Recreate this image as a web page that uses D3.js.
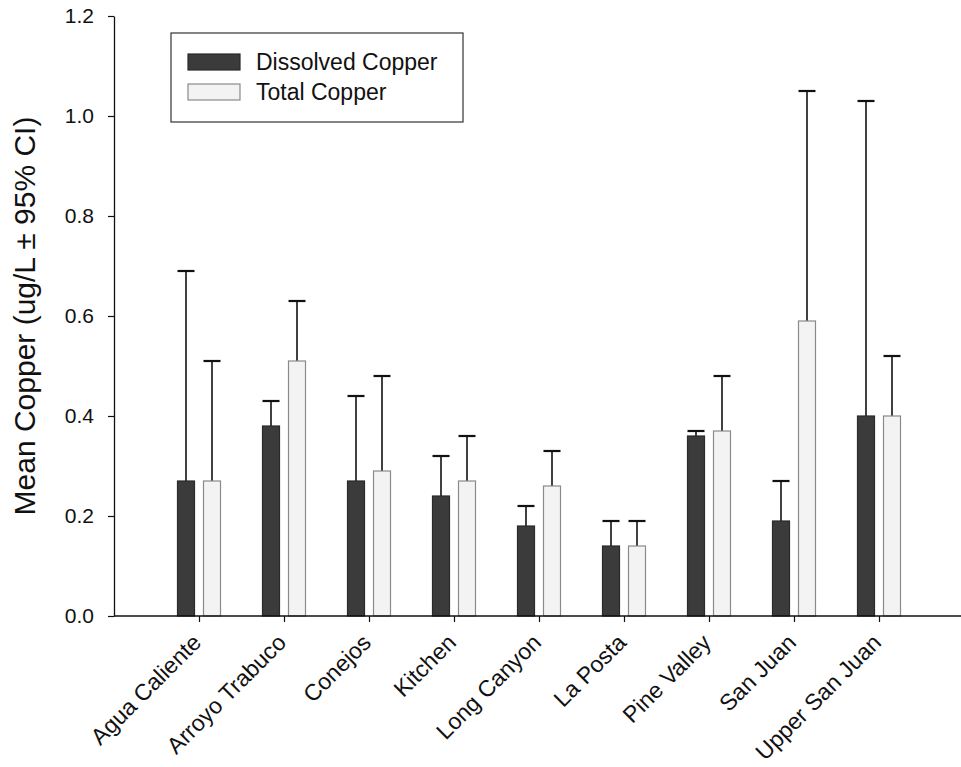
<!DOCTYPE html>
<html>
<head>
<meta charset="utf-8">
<script src="https://cdnjs.cloudflare.com/ajax/libs/d3/7.8.5/d3.min.js"></script>
<style>
  body { margin: 0; background: #fff; }
  text { font-family: "Liberation Sans", Arial, sans-serif; fill: #111; }
</style>
</head>
<body>
<div id="chart"></div>
<script>
'use strict';

var sites = ["Agua Caliente", "Arroyo Trabuco", "Conejos", "Kitchen", "Long Canyon",
             "La Posta", "Pine Valley", "San Juan", "Upper San Juan"];
var dissolved = [0.27, 0.38, 0.27, 0.24, 0.18, 0.14, 0.36, 0.19, 0.40];
var dissolvedUpper = [0.69, 0.43, 0.44, 0.32, 0.22, 0.19, 0.37, 0.27, 1.03];
var total = [0.27, 0.51, 0.29, 0.27, 0.26, 0.14, 0.37, 0.59, 0.40];
var totalUpper = [0.51, 0.63, 0.48, 0.36, 0.33, 0.19, 0.48, 1.05, 0.52];
var yTicks = [0, 0.2, 0.4, 0.6, 0.8, 1.0, 1.2];
var seriesNames = ["Dissolved Copper", "Total Copper"];

var W = 961, H = 767;
var margin = {top: 16, left: 114, bottom: 151, right: -3};
var fontFam = "'Liberation Sans', Arial, sans-serif";

var svg = d3.select("#chart").append("svg")
            .attr("width", W)
            .attr("height", H);

var x = d3.scalePoint()
          .domain(sites)
          .range([margin.left, W - margin.right])
          .padding(1);
var y = d3.scaleLinear()
          .domain([0, 1.2])
          .range([H - margin.bottom, margin.top]);

var barW = 17, off = 13;

var rows = sites.map(function(s, i){
  return [
    {site: s, key: "d", v: dissolved[i], hi: dissolvedUpper[i], dx: -off},
    {site: s, key: "t", v: total[i], hi: totalUpper[i], dx: off}
  ];
}).flat();

// error bars (upper only), drawn behind bars
var err = svg.append("g").attr("class", "err");
err.selectAll("line.stem")
   .data(rows).enter().append("line")
   .attr("class", "stem")
   .attr("x1", function(d){ return x(d.site) + d.dx; })
   .attr("x2", function(d){ return x(d.site) + d.dx; })
   .attr("y1", function(d){ return y(d.v); })
   .attr("y2", function(d){ return y(d.hi); })
   .attr("stroke", "#111")
   .attr("stroke-width", 1.6);
err.selectAll("line.cap")
   .data(rows).enter().append("line")
   .attr("class", "cap")
   .attr("x1", function(d){ return x(d.site) + d.dx - barW / 2; })
   .attr("x2", function(d){ return x(d.site) + d.dx + barW / 2; })
   .attr("y1", function(d){ return y(d.hi); })
   .attr("y2", function(d){ return y(d.hi); })
   .attr("stroke", "#111")
   .attr("stroke-width", 2.2);

svg.append("g").attr("class", "bars")
   .selectAll("rect")
   .data(rows).enter().append("rect")
   .attr("x", function(d){ return x(d.site) + d.dx - barW / 2; })
   .attr("y", function(d){ return y(d.v); })
   .attr("width", barW)
   .attr("height", function(d){ return y(0) - y(d.v); })
   .attr("fill", function(d){ return d.key === "d" ? "#3b3b3b" : "#f3f3f3"; })
   .attr("stroke", function(d){ return d.key === "d" ? "#2a2a2a" : "#8a8a8a"; })
   .attr("stroke-width", 1.2);

// y axis
var yAxis = svg.append("g")
               .attr("transform", "translate(" + margin.left + ",0)")
               .call(d3.axisLeft(y).tickValues(yTicks).tickFormat(d3.format(".1f")).tickSize(6).tickSizeOuter(0));
yAxis.select(".domain").attr("stroke", "#111").attr("stroke-width", 1.3);
yAxis.selectAll(".tick line").attr("stroke", "#111").attr("stroke-width", 1.2);
yAxis.selectAll(".tick text")
     .attr("x", -20)
     .style("font-size", "21px")
     .style("font-family", fontFam)
     .attr("fill", "#111");

// x axis
var xAxis = svg.append("g")
               .attr("transform", "translate(0," + y(0) + ")")
               .call(d3.axisBottom(x).tickSize(6).tickSizeOuter(0));
xAxis.select(".domain").attr("stroke", "#111").attr("stroke-width", 1.3)
     .attr("d", "M" + margin.left + ",0H" + W);
xAxis.selectAll(".tick line").attr("stroke", "#111").attr("stroke-width", 1.2);
xAxis.selectAll(".tick text")
     .style("font-size", "23px")
     .style("font-family", fontFam)
     .attr("fill", "#111")
     .attr("text-anchor", "end")
     .attr("dy", 0)
     .attr("y", 0)
     .attr("transform", "translate(3,28) rotate(-45)");

// y title
svg.append("text")
   .attr("transform", "translate(35," + y(0.6) + ") rotate(-90)")
   .attr("text-anchor", "middle")
   .style("font-size", "30px")
   .text("Mean Copper (ug/L \u00b1 95% CI)");

// legend
var lg = svg.append("g").attr("class", "legend");
lg.append("rect")
  .attr("x", 171).attr("y", 33)
  .attr("width", 292).attr("height", 89)
  .attr("fill", "#fff")
  .attr("stroke", "#333")
  .attr("stroke-width", 1.2);
var items = lg.selectAll("g.item")
              .data(seriesNames).enter().append("g")
              .attr("class", "item")
              .attr("transform", function(d, i){ return "translate(0," + (i * 30) + ")"; });
items.append("rect")
     .attr("x", 188).attr("y", 54)
     .attr("width", 52).attr("height", 16)
     .attr("fill", function(d, i){ return i === 0 ? "#3b3b3b" : "#f3f3f3"; })
     .attr("stroke", function(d, i){ return i === 0 ? "#2a2a2a" : "#8a8a8a"; })
     .attr("stroke-width", 1.2);
items.append("text")
     .attr("x", 256).attr("y", 70)
     .style("font-size", "23px")
     .text(function(d){ return d; });
</script>
</body>
</html>
